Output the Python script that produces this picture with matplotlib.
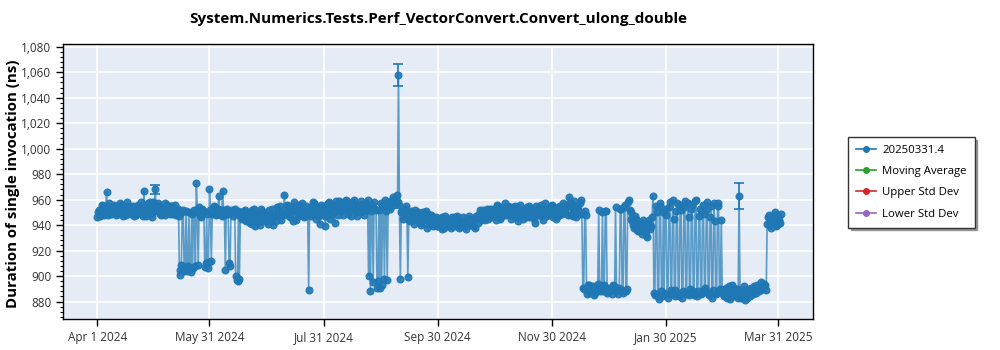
import matplotlib
matplotlib.use("Agg")
import matplotlib.pyplot as plt
from matplotlib.ticker import FuncFormatter, MultipleLocator
from matplotlib.lines import Line2D
import pandas as pd
import numpy as np

plt.rcParams['font.family'] = ['Open Sans', 'DejaVu Sans']

title = "System.Numerics.Tests.Perf_VectorConvert.Convert_ulong_double"
ylabel = "Duration of single invocation (ns)"
legend_names = ["20250331.4", "Moving Average", "Upper Std Dev", "Lower Std Dev"]
legend_colors = ["#1f77b4", "#2ca02c", "#d62728", "#9467bd"]

start_date = "2024-04-01"
# first run of each day (00:00), starting Apr 1 2024
values_am = [
    946, 952, 949, 955, 950, 966, 948, 953, 951, 956,
    948, 954, 957, 950, 947, 953, 958, 951, 949, 955,
    952, 948, 956, 950, 953, 967, 947, 957, 949, 953,
    958, 968, 951, 955, 948, 953, 957, 950, 954, 949,
    955, 951, 948, 953, 901, 909, 952, 907, 904, 950,
    903, 906, 950, 973, 909, 948, 953, 951, 910, 906,
    968, 912, 950, 954, 949, 963, 952, 967, 948, 951,
    949, 908, 952, 950, 900, 896, 898, 950, 946, 952,
    944, 950, 947, 941, 953, 945, 948, 940, 951, 946,
    943, 949, 952, 945, 940, 948, 954, 947, 951, 950,
    964, 949, 955, 946, 952, 958, 944, 950, 956, 948,
    953, 947, 951, 889, 954, 949, 957, 945, 952, 941,
    950, 955, 939, 953, 958, 948, 956, 942, 954, 959,
    951, 957, 953, 960, 949, 955, 958, 952, 956, 947,
    954, 959, 951, 957, 953, 900, 888, 956, 958, 952,
    896, 891, 893, 956, 960, 897, 954, 958, 962, 957,
    964, 1058, 898, 951, 947, 955, 899, 943, 950, 946,
    952, 944, 948, 940, 950, 945, 938, 949, 943, 947,
    941, 946, 939, 944, 937, 942, 947, 940, 944, 938,
    943, 946, 940, 945, 939, 942, 944, 937, 941, 945,
    940, 943, 938, 946, 949, 944, 952, 947, 950, 945,
    953, 948, 951, 944, 955, 949, 946, 952, 957, 948,
    950, 945, 954, 948, 951, 943, 956, 949, 953, 946,
    951, 955, 947, 950, 942, 953, 948, 956, 944, 950,
    947, 953, 949, 956, 951, 945, 954, 948, 952, 957,
    950, 955, 962, 948, 953, 959, 946, 952, 957, 949,
    890, 948, 886, 893, 889, 892, 887, 891, 952, 889,
    950, 893, 951, 888, 890, 886, 892, 954, 889, 891,
    953, 887, 956, 890, 960, 950, 943, 938, 945, 935,
    940, 933, 942, 937, 931, 944, 939, 963, 885, 950,
    882, 955, 884, 887, 948, 883, 958, 886, 945, 889,
    957, 884, 952, 888, 959, 886, 946, 890, 956, 885,
    960, 888, 953, 887, 949, 891, 958, 885, 955, 889,
    943, 887, 957, 890, 889, 884, 891, 886, 882, 893,
    887, 885, 890, 963, 883, 888, 881, 886, 890, 884,
    889, 892, 887, 891, 889, 894, 890, 893, 941, 948,
    938, 945, 950, 940, 946, 942,
]
# second run of each day (12:00)
values_pm = [
    950, 947, 956, 948, 953, 951, 957, 949, 955, 950,
    953, 949, 951, 956, 952, 948, 950, 955, 953, 947,
    949, 955, 951, 958, 947, 952, 954, 950, 958, 946,
    951, 953, 957, 949, 954, 950, 948, 956, 951, 955,
    949, 956, 952, 947, 905, 950, 904, 951, 908, 906,
    949, 952, 908, 951, 954, 946, 950, 907, 949, 911,
    952, 949, 955, 948, 953, 950, 947, 952, 905, 953,
    910, 950, 947, 953, 897, 951, 947, 945, 951, 943,
    949, 942, 952, 946, 939, 950, 943, 953, 944, 949,
    947, 941, 946, 953, 948, 943, 950, 955, 944, 948,
    950, 956, 947, 953, 943, 951, 955, 947, 952, 957,
    946, 955, 949, 953, 947, 958, 950, 954, 947, 956,
    953, 947, 951, 957, 945, 954, 950, 959, 948, 953,
    956, 948, 959, 952, 957, 947, 953, 960, 950, 955,
    950, 956, 948, 954, 960, 956, 951, 895, 953, 891,
    952, 957, 955, 898, 951, 958, 953, 960, 956, 961,
    958, 956, 950, 945, 953, 949, 944, 951, 947, 941,
    945, 950, 942, 947, 944, 951, 946, 941, 948, 939,
    944, 939, 945, 941, 946, 938, 943, 945, 939, 946,
    939, 942, 947, 938, 944, 946, 939, 943, 947, 940,
    945, 939, 947, 942, 952, 947, 949, 944, 953, 948,
    946, 953, 947, 956, 950, 945, 954, 948, 951, 955,
    954, 949, 947, 955, 946, 952, 950, 945, 948, 954,
    946, 950, 953, 945, 955, 949, 952, 947, 953, 957,
    952, 948, 955, 946, 953, 950, 947, 955, 949, 951,
    956, 948, 957, 954, 947, 952, 955, 949, 960, 891,
    951, 889, 893, 887, 891, 885, 890, 894, 888, 892,
    888, 951, 887, 891, 889, 893, 888, 890, 886, 953,
    889, 954, 888, 958, 952, 945, 940, 947, 936, 942,
    936, 944, 939, 932, 941, 937, 946, 887, 955, 884,
    957, 888, 950, 953, 886, 954, 889, 960, 884, 951,
    886, 956, 883, 954, 887, 957, 885, 953, 888, 959,
    884, 947, 886, 956, 889, 952, 887, 946, 883, 957,
    886, 955, 888, 944, 886, 890, 883, 892, 888, 884,
    891, 886, 883, 889, 885, 892, 887, 883, 889, 891,
    886, 890, 893, 888, 895, 891, 894, 889, 946, 940,
    947, 943, 939, 948, 944, 949,
]
# error bars (ns) for first runs whose bars are visible; day index -> half-width
errors_am = {31: 3.7, 161: 8.6, 343: 10.4}

tick_dates = ["2024-04-01", "2024-05-31", "2024-07-31", "2024-09-30",
              "2024-11-30", "2025-01-30", "2025-03-31"]
tick_labels = ["Apr 1 2024", "May 31 2024", "Jul 31 2024", "Sep 30 2024",
               "Nov 30 2024", "Jan 30 2025", "Mar 31 2025"]

days_am = pd.date_range(start_date, periods=len(values_am), freq="D")
days_pm = days_am + pd.Timedelta(hours=12)
df = pd.concat([
    pd.DataFrame({"t": days_am, "v": values_am,
                  "e": [errors_am.get(i, 0.0) for i in range(len(values_am))]}),
    pd.DataFrame({"t": days_pm, "v": values_pm, "e": 0.0}),
]).sort_values("t").reset_index(drop=True)

fig = plt.figure(figsize=(10, 3.5), dpi=100)
ax = fig.add_axes([0.063, 0.089, 0.750, 0.785])
ax.set_facecolor("#e5ecf6")
color = "#1f77b4"

ax.plot(df["t"], df["v"], "-", color=color, lw=1.2, alpha=0.7, zorder=3)
ax.plot(df["t"], df["v"], "o", color=color, ms=4.8, alpha=0.9, mec=color, zorder=4)
de = df[df["e"] > 0]
ax.errorbar(de["t"], de["v"], yerr=de["e"], fmt="none",
            ecolor=color, elinewidth=1.2, capsize=3.5, capthick=1.2, zorder=4)

ax.set_xlim(pd.Timestamp("2024-03-13 18:00"), pd.Timestamp("2025-04-18 12:00"))
ax.set_ylim(866.4, 1082.1)

ax.set_xticks(pd.to_datetime(tick_dates))
ax.set_xticklabels(tick_labels)
ax.yaxis.set_major_locator(MultipleLocator(20))
ax.yaxis.set_minor_locator(MultipleLocator(4))
ax.yaxis.set_major_formatter(FuncFormatter(lambda v, p: f"{v:,.0f}"))

ax.grid(True, which="major", color="white", lw=1.2)
ax.set_axisbelow(True)
for s in ax.spines.values():
    s.set_color("black")
    s.set_linewidth(1.0)
ax.tick_params(axis="both", which="major", direction="out", length=5, width=1,
               labelsize=8.5, labelcolor="#333333", color="black")
ax.tick_params(axis="y", which="minor", direction="out", length=2.5, width=0.8, color="black")

fig.text(0.013, 0.474, ylabel, rotation=90, ha="center", va="center",
         fontsize=10.8, fontweight="bold")
fig.text(0.438, 0.945, title, ha="center", va="center", fontsize=11, fontweight="bold")

handles = [Line2D([0], [0], color=c, lw=1.2, marker="o", ms=4) for c in legend_colors]
leg = fig.legend(handles, legend_names, loc="upper left", bbox_to_anchor=(0.848, 0.609),
                 bbox_transform=fig.transFigure, fontsize=8.2, frameon=True, fancybox=False,
                 shadow=True, edgecolor="#333333", handlelength=1.8, handletextpad=0.5,
                 borderaxespad=0, labelspacing=0.9, borderpad=0.7)
leg.get_frame().set_linewidth(1.0)

fig.savefig("out.png", dpi=100, facecolor="white")
